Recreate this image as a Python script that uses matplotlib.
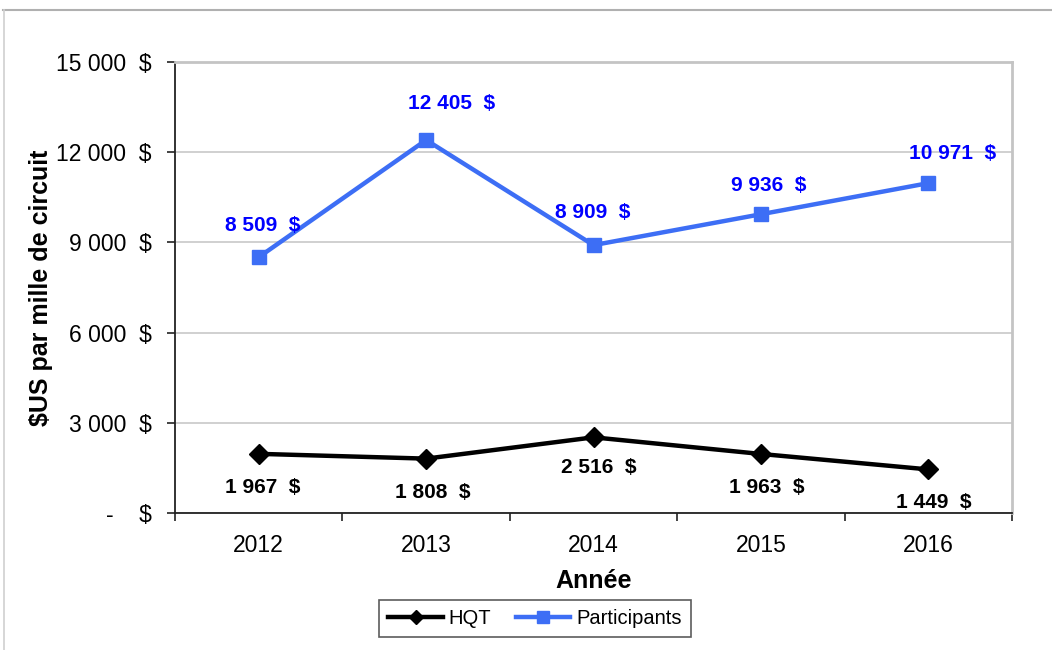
import matplotlib
matplotlib.use("Agg")
import matplotlib.pyplot as plt
from matplotlib.lines import Line2D

plt.rcParams['font.family'] = ['Liberation Sans', 'DejaVu Sans']

years = ["2012", "2013", "2014", "2015", "2016"]
hqt = [1967, 1808, 2516, 1963, 1449]
participants = [8509, 12405, 8909, 9936, 10971]
y_ticks = [0, 3000, 6000, 9000, 12000, 15000]

# label placement (pixels from the marker: dx right, dy up)
part_label_dx = [4, 25, -1, 8, 24]
part_label_dy = [32, 37, 33, 29, 30]
hqt_label_dx = [4, 7, 5, 6, 5]
hqt_label_dy = [-34, -34, -30, -34, -33]


def fmt_money(v):
    if v == 0:
        return "-    $"
    return f"{v:,}".replace(",", " ") + "  $"


PX = 72 / 100  # points per pixel

fig = plt.figure(figsize=(10.52, 6.5), dpi=100)
ax = fig.add_axes([0.1664, 0.2108, 0.7956, 0.6938])

x = list(range(len(years)))
blue_line = "#3d6ef5"
ax.plot(x, hqt, color="black", lw=3.2, marker="D", ms=10, zorder=3, label="HQT")
ax.plot(x, participants, color=blue_line, lw=3.2, marker="s", ms=10, zorder=3,
        label="Participants")

for xi, v, dx, dy in zip(x, participants, part_label_dx, part_label_dy):
    ax.annotate(fmt_money(v), (xi, v), xytext=(dx * PX, dy * PX),
                textcoords="offset points", ha="center", va="center",
                fontsize=15, fontweight="bold", color="#0000ff")
for xi, v, dx, dy in zip(x, hqt, hqt_label_dx, hqt_label_dy):
    ax.annotate(fmt_money(v), (xi, v), xytext=(dx * PX, dy * PX),
                textcoords="offset points", ha="center", va="center",
                fontsize=15, fontweight="bold", color="black")

ax.set_xlim(-0.5, len(years) - 0.5)
ax.set_ylim(0, 15000)
ax.set_yticks(y_ticks)
ax.set_yticklabels([fmt_money(v) for v in y_ticks], fontsize=16.5)
ax.set_xticks(x)
ax.set_xticklabels(years, fontsize=16.5)
ax.tick_params(axis="x", which="major", length=0, pad=15)
ax.set_xticks([i - 0.5 for i in range(len(years) + 1)], minor=True)
ax.tick_params(axis="x", which="minor", length=6, width=1.2, color="#222222")
ax.tick_params(axis="y", length=6, width=1.2, color="#222222", pad=11)

ax.grid(axis="y", color="#c8c8c8", lw=1.2)
ax.set_axisbelow(True)
for side in ("top", "right"):
    ax.spines[side].set_color("#c4c4c4")
    ax.spines[side].set_linewidth(2)
for side in ("left", "bottom"):
    ax.spines[side].set_color("#222222")
    ax.spines[side].set_linewidth(1.3)

ax.set_ylabel("$US par mille de circuit", fontsize=18, fontweight="bold")
ax.yaxis.set_label_coords(-0.146, 0.5)
ax.set_xlabel("Année", fontsize=18, fontweight="bold")
ax.xaxis.set_label_coords(0.5, -0.124)

handles = [
    Line2D([0], [0], color="black", lw=3.2, marker="D", ms=7),
    Line2D([0], [0], color=blue_line, lw=3.2, marker="s", ms=8),
]
leg = fig.legend(handles, ["HQT", "Participants"], loc="center",
                 bbox_to_anchor=(535 / 1052, 1 - 618.5 / 650), ncol=2, fontsize=14.5,
                 frameon=True, fancybox=False, edgecolor="#333333",
                 handlelength=2.7, handletextpad=0.3, columnspacing=1.2,
                 borderpad=0.45, borderaxespad=0)
leg.get_frame().set_linewidth(1.2)

# outer frame lines of the figure
fig.add_artist(Line2D([3 / 1052, 1], [1 - 10 / 650, 1 - 10 / 650],
                      color="#b0b0b0", lw=1.5, transform=fig.transFigure))
fig.add_artist(Line2D([4 / 1052, 4 / 1052], [0, 1 - 10 / 650],
                      color="#d0d0d0", lw=1.2, transform=fig.transFigure))

fig.savefig("out.png", dpi=100)
